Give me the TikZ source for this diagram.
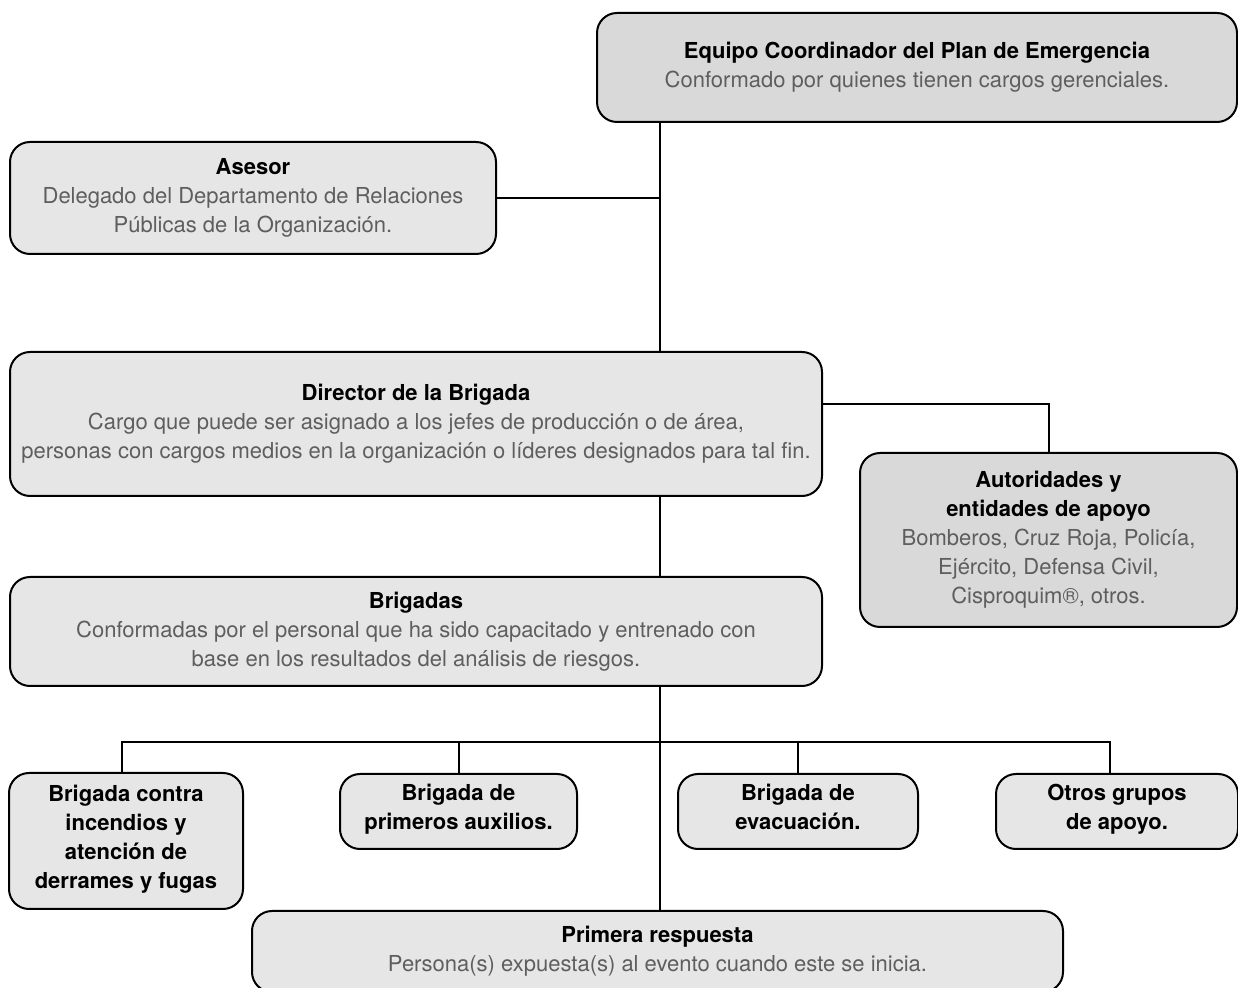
\documentclass[tikz,border=0pt]{standalone}
\usepackage{fontspec}
\setmainfont{TeX Gyre Heros}
\definecolor{boxdark}{HTML}{D9D9D9}
\definecolor{boxlight}{HTML}{E6E6E6}
\definecolor{bodygray}{HTML}{5E5E5E}
\tikzset{
  orgbox/.style={draw, line width=1pt, rounded corners=10pt, fill=boxlight,
    align=center, inner sep=0pt, text=bodygray,
    font=\fontsize{11}{14.5}\selectfont},
  darkbox/.style={orgbox, fill=boxdark},
  unitbox/.style={orgbox, text=black, font=\fontsize{11}{14.5}\selectfont\bfseries,
    execute at begin node={\rule{0pt}{14pt}}, execute at end node=\strut},
  link/.style={line width=1pt}
}
\begin{document}
\begin{tikzpicture}[x=0.5pt,y=-0.5pt]
  \useasboundingbox (0,0) rectangle (1238,988);
  \coordinate (spine) at (660,0);
  \coordinate (bar) at (0,742);
  % upper levels
  \node[darkbox, minimum width=320pt, minimum height=54.5pt] (coord) at (917,67.5)
    {\textcolor{black}{\bfseries Equipo Coordinador del Plan de Emergencia}\\
     Conformado por quienes tienen cargos gerenciales.};
  \node[orgbox, minimum width=243pt, minimum height=56pt] (asesor) at (253,198)
    {\textcolor{black}{\bfseries Asesor}\\
     Delegado del Departamento de Relaciones\\
     Públicas de la Organización.};
  \node[orgbox, minimum width=406pt, minimum height=72pt] (dir) at (416,424)
    {\textcolor{black}{\bfseries Director de la Brigada}\\
     Cargo que puede ser asignado a los jefes de producción o de área,\\
     personas con cargos medios en la organización o líderes designados para tal fin.};
  \node[darkbox, minimum width=188.5pt, minimum height=87pt] (aut) at (1048.5,540)
    {\textcolor{black}{\bfseries Autoridades y}\\
     \textcolor{black}{\bfseries entidades de apoyo}\\
     Bomberos, Cruz Roja, Policía,\\ Ejército, Defensa Civil,\\
     Cisproquim®, otros.};
  \node[orgbox, minimum width=406pt, minimum height=54.5pt] (brig) at (416,631.5)
    {\textcolor{black}{\bfseries Brigadas}\\
     Conformadas por el personal que ha sido capacitado y entrenado con\\
     base en los resultados del análisis de riesgos.};
  % brigades
  \node[unitbox, minimum width=117pt, minimum height=68pt] (b1) at (126,841)
    {Brigada contra\\ incendios y\\ atención de\\ derrames y fugas};
  \node[unitbox, minimum width=118.5pt, minimum height=37.5pt] (b2) at (458.5,811.5)
    {Brigada de\\ primeros auxilios.};
  \node[unitbox, minimum width=120pt, minimum height=37.5pt] (b3) at (798,811.5)
    {Brigada de\\ evacuación.};
  \node[unitbox, minimum width=121pt, minimum height=37.5pt] (b4) at (1117,811.5)
    {Otros grupos\\ de apoyo.};
  \node[orgbox, minimum width=405.5pt, minimum height=40.5pt] (prim) at (657.5,951.5)
    {\textcolor{black}{\bfseries Primera respuesta}\\
     Persona(s) expuesta(s) al evento cuando este se inicia.};
  % connectors
  \draw[link] (coord.south -| spine) -- (dir.north -| spine);
  \draw[link] (asesor.east) -- (asesor.east -| spine);
  \draw[link] ([yshift=10pt]dir.east) -| (aut.north);
  \draw[link] (dir.south -| spine) -- (brig.north -| spine);
  \draw[link] (brig.south -| spine) -- (prim.north -| spine);
  \draw[link] ([xshift=-2pt]b1.north) -- ([xshift=-2pt]b1.north |- bar)
    -- ([xshift=-3.5pt]b4.north |- bar) -- ([xshift=-3.5pt]b4.north);
  \foreach \b in {b2,b3}
    \draw[link] (\b.north) -- (\b.north |- bar);
\end{tikzpicture}
\end{document}
